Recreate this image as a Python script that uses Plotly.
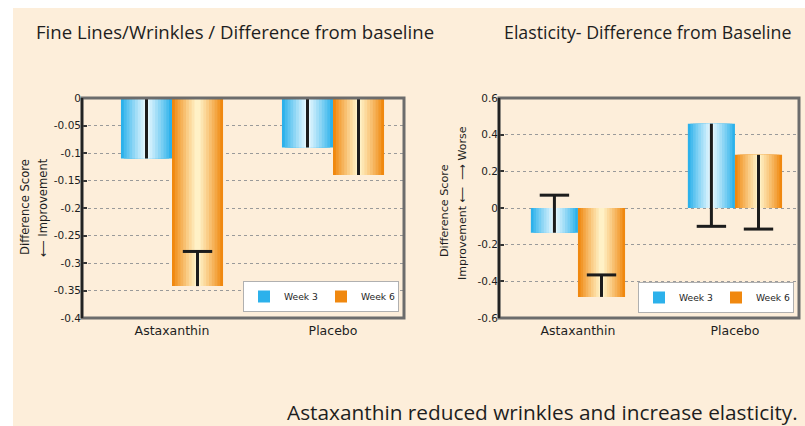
import plotly.graph_objects as go

# ---------------- data ----------------
categories = ["Astaxanthin", "Placebo"]
series_names = ["Week 3", "Week 6"]

wrinkles_week3 = [-0.11, -0.09]
wrinkles_week6 = [-0.342, -0.14]
wrinkles_err_plus_week3 = [0.115, 0.118]
wrinkles_err_minus_week3 = [0.0, 0.0]
wrinkles_err_plus_week6 = [0.063, 0.156]
wrinkles_err_minus_week6 = [0.0, 0.0]

elasticity_week3 = [-0.135, 0.46]
elasticity_week6 = [-0.485, 0.29]
elasticity_err_plus_week3 = [0.205, 0.0]
elasticity_err_minus_week3 = [0.0, 0.56]
elasticity_err_plus_week6 = [0.12, 0.0]
elasticity_err_minus_week6 = [0.0, 0.405]

wrinkles_tickvals = [0, -0.05, -0.1, -0.15, -0.2, -0.25, -0.3, -0.35, -0.4]
wrinkles_ticktext = ["0", "-0.05", "-0.1", "-0.15", "-0.2", "-0.25", "-0.3", "-0.35", "-0.4"]
elasticity_tickvals = [0.6, 0.4, 0.2, 0, -0.2, -0.4, -0.6]
elasticity_ticktext = ["0.6", "0.4", "0.2", "0", "-0.2", "-0.4", "-0.6"]

title_left = "Fine Lines/Wrinkles / Difference from baseline"
title_right = "Elasticity- Difference from Baseline"
caption = "Astaxanthin reduced wrinkles and increase elasticity."

# ---------------- styling ----------------
W, H = 805, 426
CREAM = "#FDEEDA"
FONT = "Open Sans"
SMALL = "DejaVu Sans"
TXT = "#1e1e1e"
ERR = "#1c1c1c"


def mix(c1, c2, t):
    a = [int(c1[i:i + 2], 16) for i in (1, 3, 5)]
    b = [int(c2[i:i + 2], 16) for i in (1, 3, 5)]
    return "#" + "".join(f"{round(x + (y - x) * t):02X}" for x, y in zip(a, b))


def gradient_layers(edge, light, n=9):
    out = []
    for k in range(n):
        t = k / (n - 1)
        out.append((1.0 - 0.88 * t, mix(edge, light, t ** 0.9)))
    return out


blue_layers = gradient_layers("#2CB1EB", "#E2F6FE")
orange_layers = gradient_layers("#F0880F", "#FFF1C6")


def px(x):
    return x / W


def py(y):
    return 1 - y / H


cat_x = list(range(len(categories)))
fig = go.Figure()


def add_series(values, eplus, eminus, layers, side, bw, xa, ya, legend, name):
    center = (-bw / 2) if side == 0 else (bw / 2)
    for i, (f, col) in enumerate(layers):
        w = f * bw
        fig.add_trace(go.Bar(
            x=cat_x, y=values, width=w, offset=center - w / 2,
            marker=dict(color=col, line=dict(width=0)),
            name=name, showlegend=(i == 0), legend=legend,
            xaxis=xa, yaxis=ya, cliponaxis=False, hoverinfo="skip",
        ))
    # error stems (no caps) from bar end
    fig.add_trace(go.Scatter(
        x=[c + center for c in cat_x], y=values, mode="markers",
        marker=dict(size=1, color="rgba(0,0,0,0)"),
        error_y=dict(type="data", symmetric=False, array=eplus, arrayminus=eminus,
                     color=ERR, thickness=3, width=0),
        showlegend=False, xaxis=xa, yaxis=ya, cliponaxis=False, hoverinfo="skip",
    ))
    # caps at the far end of the error
    cap_y = [v + p - m for v, p, m in zip(values, eplus, eminus)]
    fig.add_trace(go.Scatter(
        x=[c + center for c in cat_x], y=cap_y, mode="markers",
        marker=dict(symbol="line-ew", size=21, line=dict(color=ERR, width=3)),
        showlegend=False, xaxis=xa, yaxis=ya, cliponaxis=False, hoverinfo="skip",
    ))


bw_left = 0.317
bw_right = 0.30
add_series(wrinkles_week3, wrinkles_err_plus_week3, wrinkles_err_minus_week3, blue_layers, 0, bw_left, "x", "y", "legend", series_names[0])
add_series(wrinkles_week6, wrinkles_err_plus_week6, wrinkles_err_minus_week6, orange_layers, 1, bw_left, "x", "y", "legend", series_names[1])
add_series(elasticity_week3, elasticity_err_plus_week3, elasticity_err_minus_week3, blue_layers, 0, bw_right, "x2", "y2", "legend2", series_names[0])
add_series(elasticity_week6, elasticity_err_plus_week6, elasticity_err_minus_week6, orange_layers, 1, bw_right, "x2", "y2", "legend2", series_names[1])

tickfont = dict(family=SMALL, size=10.5, color=TXT)
catfont = dict(family=SMALL, size=12.5, color=TXT)

xcommon = dict(tickmode="array", tickvals=cat_x, ticktext=categories, tickfont=catfont,
               showgrid=False, zeroline=False, showline=False, ticks="", fixedrange=True,
               ticklabelstandoff=3)
ycommon = dict(tickmode="array", tickfont=tickfont, showgrid=True, gridcolor="#9a9a9a",
               gridwidth=1, griddash="dot", zeroline=False, showline=False,
               ticks="inside", ticklen=5, tickwidth=1.5, tickcolor="#333", fixedrange=True)

legend_common = dict(xanchor="left", yanchor="top", orientation="h",
                     bgcolor="white", bordercolor="#b0b0b0", borderwidth=1,
                     font=dict(family=SMALL, size=9.2, color=TXT), itemwidth=30,
                     entrywidth=32, tracegroupgap=0)

fig.update_layout(
    width=W, height=H, margin=dict(l=0, r=0, t=0, b=0, autoexpand=False),
    paper_bgcolor="white", plot_bgcolor="rgba(0,0,0,0)",
    barmode="overlay", showlegend=True,
    xaxis=dict(domain=[px(82), px(404)], range=[-0.559, 1.441], anchor="y", **xcommon),
    yaxis=dict(domain=[py(318), py(98)], range=[-0.4, 0], anchor="x",
               tickvals=wrinkles_tickvals, ticktext=wrinkles_ticktext, **ycommon),
    xaxis2=dict(domain=[px(499), px(799)], range=[-0.503, 1.408], anchor="y2", **xcommon),
    yaxis2=dict(domain=[py(318), py(98)], range=[-0.6, 0.6], anchor="x2",
                tickvals=elasticity_tickvals, ticktext=elasticity_ticktext, **ycommon),
    legend=dict(x=px(243), y=py(281), **legend_common),
    legend2=dict(x=px(638), y=py(282), **legend_common),
)

shapes = [
    dict(type="rect", xref="paper", yref="paper", x0=px(13), x1=1, y0=0, y1=py(8),
         fillcolor=CREAM, line=dict(width=0), layer="below"),
]
for xa, ya in (("x", "y"), ("x2", "y2")):
    shapes.append(dict(type="rect", xref=f"{xa} domain", yref=f"{ya} domain", x0=0, x1=1, y0=0, y1=1,
                       line=dict(color="#6c6c6c", width=3), fillcolor="rgba(0,0,0,0)", layer="above"))
    shapes.append(dict(type="line", xref=f"{xa} domain", yref=f"{ya} domain", x0=0, x1=0, y0=0, y1=1,
                       line=dict(color="#222", width=2.5), layer="above"))
# legend shadows
shapes.append(dict(type="rect", xref="paper", yref="paper", x0=px(246), x1=px(399), y0=py(312), y1=py(286),
                   fillcolor="#7a7a7a", line=dict(width=0), layer="above"))
shapes.append(dict(type="rect", xref="paper", yref="paper", x0=px(641), x1=px(794), y0=py(313), y1=py(287),
                   fillcolor="#7a7a7a", line=dict(width=0), layer="above"))
fig.update_layout(shapes=shapes)

ann = [
    dict(text=title_left, x=px(235), y=py(32), font=dict(family=FONT, size=18.6, color=TXT)),
    dict(text=title_right, x=px(647), y=py(32), font=dict(family=FONT, size=17.8, color=TXT)),
    dict(text="Difference Score", x=px(25), y=py(207), textangle=-90, font=dict(family=SMALL, size=11.6, color=TXT)),
    dict(text="\u27f5 Improvement", x=px(43), y=py(208), textangle=-90, font=dict(family=SMALL, size=11.6, color=TXT)),
    dict(text="Difference Score", x=px(445), y=py(211), textangle=-90, font=dict(family=SMALL, size=11.2, color=TXT)),
    dict(text="Improvement \u27f5  \u27f6 Worse", x=px(462), y=py(203), textangle=-90, font=dict(family=SMALL, size=11, color=TXT)),
    dict(text=caption, x=px(800), y=py(412), xanchor="right", font=dict(family=FONT, size=20.8, color=TXT)),
]
for a in ann:
    a.setdefault("xanchor", "center")
    a.update(xref="paper", yref="paper", yanchor="middle", showarrow=False)
fig.update_layout(annotations=ann)

fig.write_html("out.html", config={"displayModeBar": False},
               post_script="document.body.style.margin='0';document.body.style.padding='0';document.body.style.overflow='hidden';")
